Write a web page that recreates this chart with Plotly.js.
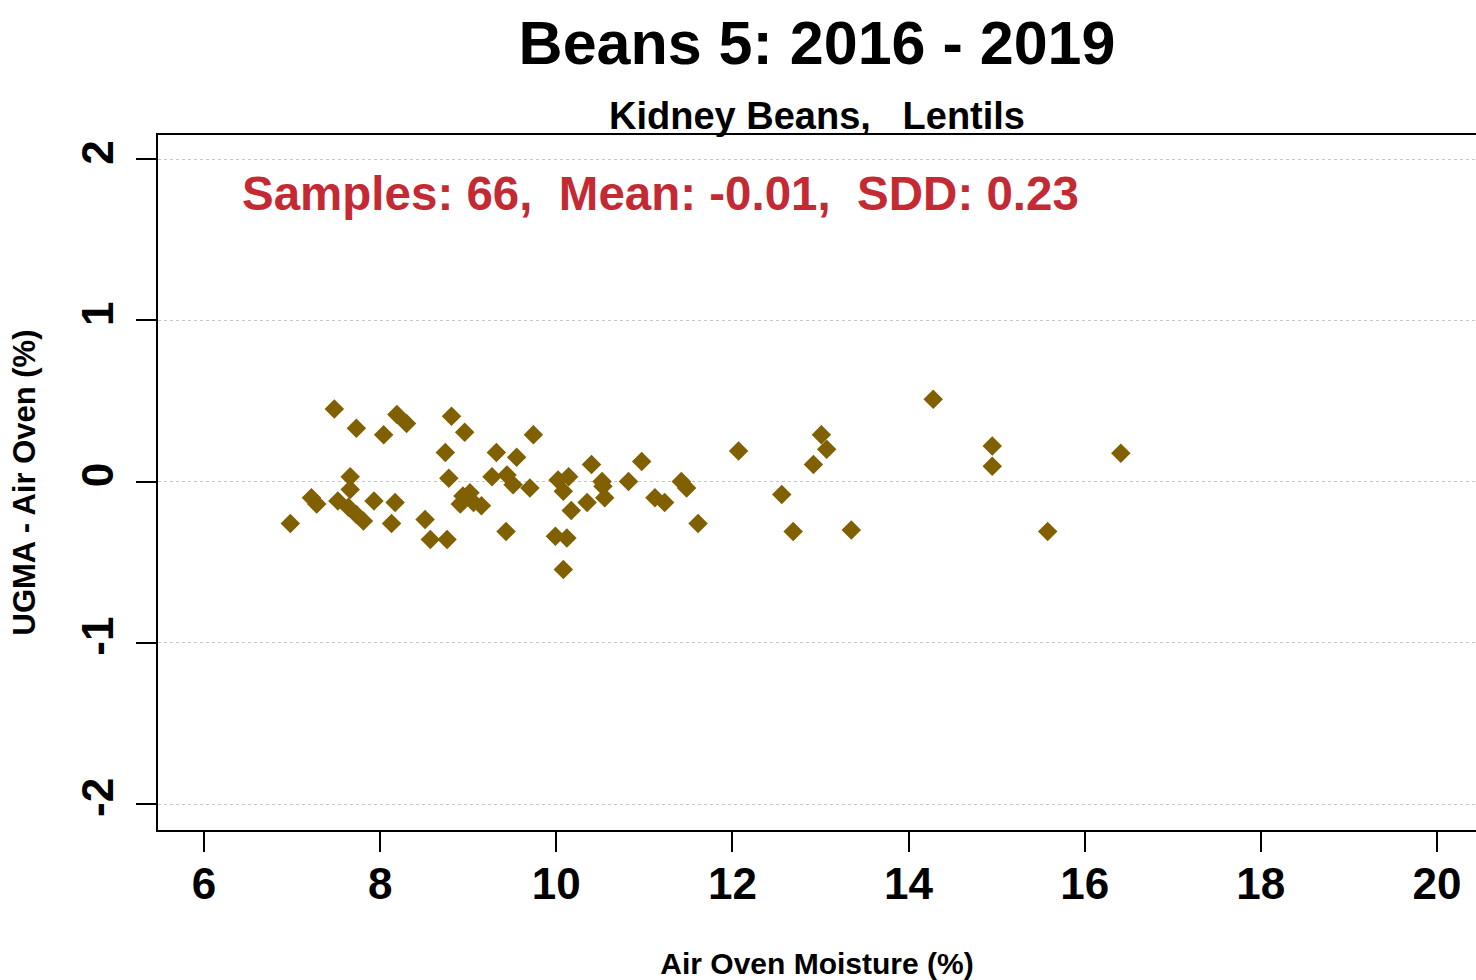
<!DOCTYPE html>
<html>
<head>
<meta charset="utf-8">
<script src="https://cdn.plot.ly/plotly-3.0.1.min.js"></script>
<style>html,body{margin:0;padding:0;background:#fff;}#chart{width:1476px;height:980px;}</style>
</head>
<body>
<div id="chart"></div>
<script>
// Air oven moisture (%)
const airOven = [
  7.48, 7.73, 8.04, 8.19, 8.30, 8.81, 8.96, 9.74, 8.74, 9.32, 9.55,
  7.66, 7.66, 8.78, 9.27, 9.44, 9.51, 9.70, 10.02, 10.14, 10.08,
  7.22, 7.28, 6.98, 7.52, 7.64, 7.73, 7.81, 7.93, 8.17, 8.13,
  8.51, 8.57, 8.76, 8.94, 9.02, 9.06, 9.15, 8.91, 9.43, 10.12, 9.99, 10.08, 10.17,
  10.40, 10.35, 10.53, 10.55, 10.52, 10.82, 10.97, 11.12, 11.23, 11.42, 11.48, 11.61,
  12.07, 12.56, 12.69, 13.01, 13.07, 12.92, 13.35,
  14.28, 14.95, 14.95, 16.41, 15.58
];
// UGMA - Air Oven difference (%)
const diff = [
  0.45, 0.33, 0.29, 0.415, 0.36, 0.405, 0.305, 0.29, 0.18, 0.18, 0.15,
  0.03, -0.05, 0.02, 0.03, 0.04, -0.02, -0.04, 0.01, 0.03, -0.06,
  -0.10, -0.14, -0.26, -0.12, -0.16, -0.205, -0.245, -0.12, -0.13, -0.26,
  -0.235, -0.36, -0.36, -0.09, -0.07, -0.13, -0.15, -0.14, -0.31, -0.35, -0.34, -0.545, -0.18,
  0.105, -0.13, -0.03, -0.10, 0.0, 0.0, 0.125, -0.10, -0.13, 0.0, -0.04, -0.26,
  0.19, -0.08, -0.31, 0.29, 0.20, 0.105, -0.30,
  0.51, 0.22, 0.095, 0.175, -0.31
];
const xTicks = [6, 8, 10, 12, 14, 16, 18, 20];
const yTicks = [-2, -1, 0, 1, 2];
const yTickText = ['-2', '-1', '0', '1', '2'];

const chartTitle = 'Beans 5: 2016 - 2019';
const subTitle = 'Kidney Beans,\u00A0\u00A0 Lentils';
const statsText = 'Samples: 66,\u00A0 Mean: -0.01,\u00A0 SDD: 0.23';
const xTitle = 'Air Oven Moisture (%)';
const yTitle = 'UGMA - Air Oven (%)';

const FONT = 'Liberation Sans, Arial, sans-serif';

const trace = {
  x: airOven,
  y: diff,
  type: 'scatter',
  mode: 'markers',
  marker: {symbol: 'diamond', size: 15, color: 'rgb(128,96,0)', line: {width: 0}},
  hoverinfo: 'x+y'
};

const layout = {
  width: 1476,
  height: 980,
  paper_bgcolor: '#ffffff',
  plot_bgcolor: '#ffffff',
  showlegend: false,
  margin: {l: 158, r: 0, t: 135, b: 150, pad: 0},
  title: {
    text: '<b>' + chartTitle + '</b>',
    font: {family: FONT, size: 61, color: '#000'},
    x: 0.5, xref: 'paper', xanchor: 'center',
    y: 1 - 43/980, yref: 'container', yanchor: 'middle'
  },
  xaxis: {
    range: [5.4777, 20.443],
    tickvals: xTicks,
    ticktext: xTicks.map(String),
    ticks: 'outside', ticklen: 20, tickwidth: 2, tickcolor: '#000',
    ticklabelstandoff: -6,
    tickfont: {family: FONT, size: 44, color: '#000', weight: 'bold'},
    showline: true, linecolor: '#000', linewidth: 2, mirror: true,
    showgrid: false, zeroline: false,
    title: {text: '<b>' + xTitle + '</b>', font: {family: FONT, size: 30, color: '#000'}, standoff: 68}
  },
  yaxis: {
    range: [-2.161, 2.149],
    tickvals: yTicks,
    ticktext: yTickText,
    tickangle: -90,
    ticks: 'outside', ticklen: 20, tickwidth: 2, tickcolor: '#000',
    ticklabelstandoff: 5,
    tickfont: {family: FONT, size: 44, color: '#000', weight: 'bold'},
    showline: true, linecolor: '#000', linewidth: 2, mirror: true,
    showgrid: true, gridcolor: '#c8c8c8', gridwidth: 1, griddash: 'dot',
    zeroline: false,
    title: {text: '<b>' + yTitle + '</b>', font: {family: FONT, size: 31, color: '#000'}, standoff: 29}
  },
  annotations: [
    {
      text: '<b>' + subTitle + '</b>',
      xref: 'paper', yref: 'paper', x: 0.5, y: 1, xanchor: 'center', yanchor: 'bottom',
      yshift: -4, showarrow: false,
      font: {family: FONT, size: 38, color: '#000'}
    },
    {
      text: '<b>' + statsText + '</b>',
      xref: 'paper', yref: 'paper', x: (240-158)/1318, y: 1 - (193-135)/695, xanchor: 'left', yanchor: 'middle',
      showarrow: false,
      font: {family: FONT, size: 47.5, color: 'rgb(196,42,52)'}
    }
  ]
};

Plotly.newPlot('chart', [trace], layout, {displayModeBar: false, responsive: false});
</script>
</body>
</html>
